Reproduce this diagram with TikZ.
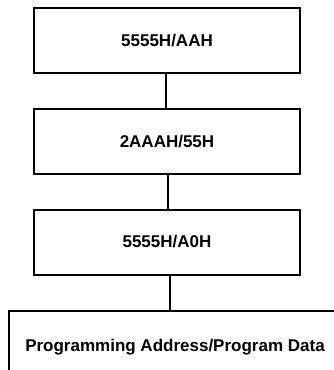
\documentclass[tikz,border=0pt]{standalone}
\usepackage{fontspec}
\setmainfont{Liberation Sans}
\begin{document}
\begin{tikzpicture}[x=1bp,y=-1bp,
  box/.style={draw=black, line width=2bp, minimum width=266bp, minimum height=65bp,
    inner sep=0pt, font=\fontsize{17bp}{20bp}\selectfont\bfseries},
  conn/.style={draw=black, line width=2bp}]
\useasboundingbox (0,0) rectangle (334,370);
\begin{scope}
\clip (0,0) rectangle (334,370);
\node[box] (b1) at (167,40.5) {5555H/AAH};
\node[box] (b2) at (167,141.5) {2AAAH/55H};
\node[box] (b3) at (167,242) {5555H/A0H};
\node[box, minimum width=332bp, minimum height=68bp, text height=12.2bp, text depth=0pt] (b4) at (175,345) {Programming Address/Program Data};
\coordinate (k1) at (166,0);
\coordinate (k2) at (168,0);
\coordinate (k3) at (170,0);
\draw[conn] (b1.south -| k1) -- (b2.north -| k1);
\draw[conn] (b2.south -| k2) -- (b3.north -| k2);
\draw[conn] (b3.south -| k3) -- (b4.north -| k3);
\end{scope}
\end{tikzpicture}
\end{document}
